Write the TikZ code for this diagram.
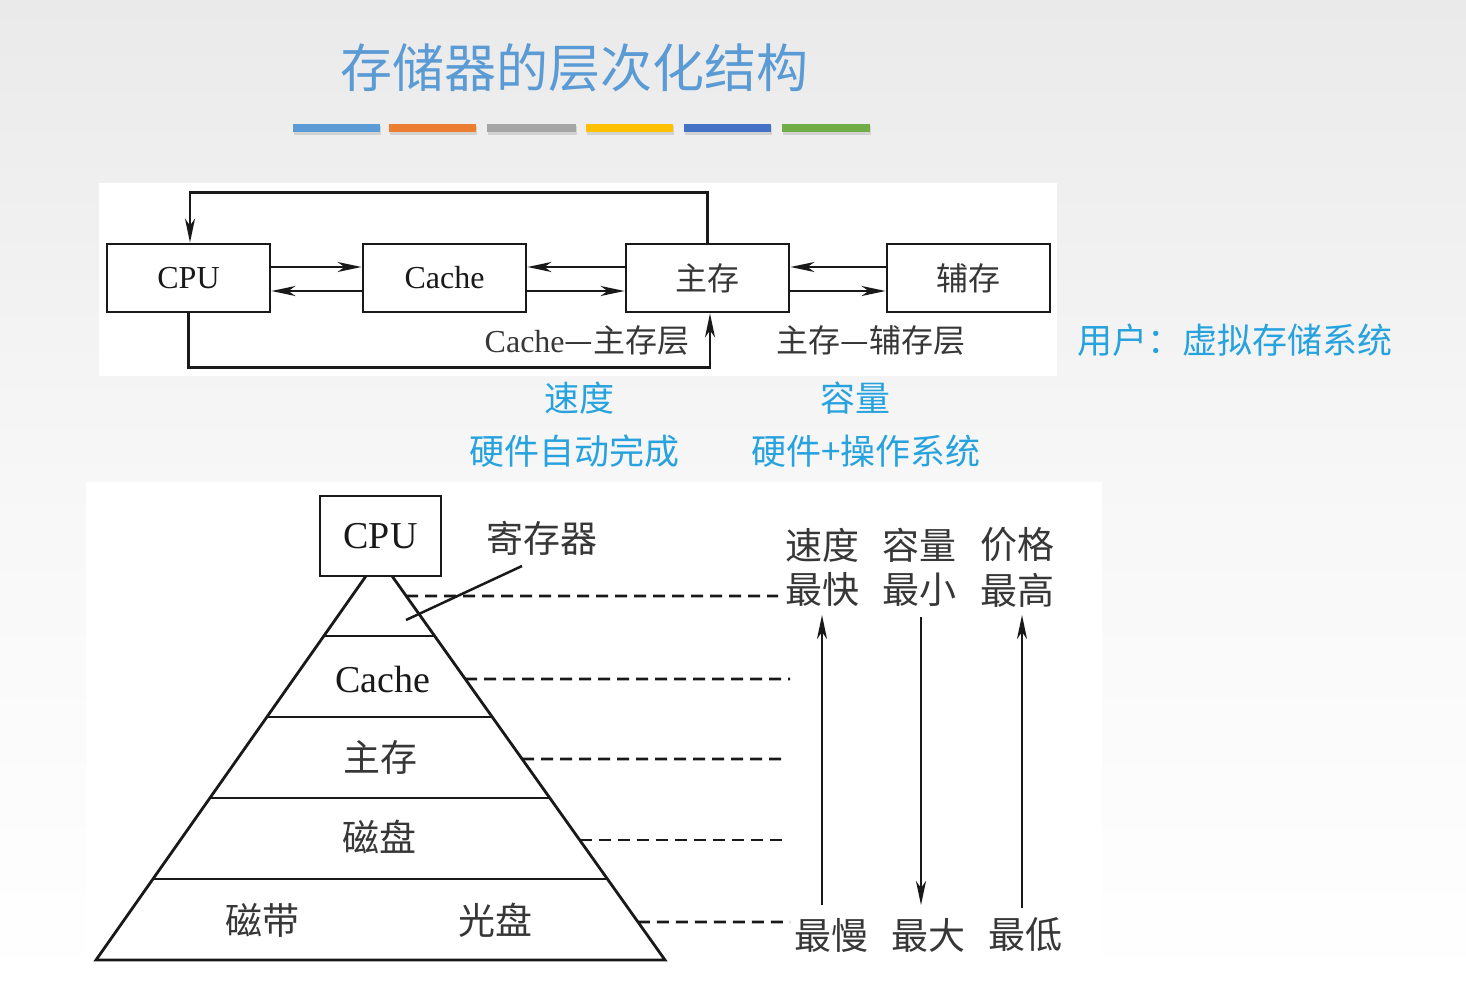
\documentclass[tikz,border=0pt]{standalone}
\usepackage{fontspec}
\setmainfont{Liberation Serif}
\newfontfamily\cjk{Noto Sans CJK SC}
\usetikzlibrary{arrows.meta,calc}
\definecolor{titleblue}{RGB}{91,155,213}
\definecolor{lblue}{RGB}{38,162,222}
\definecolor{ink}{RGB}{25,25,25}
\definecolor{cjkink}{RGB}{55,55,55}
\definecolor{barA}{RGB}{91,155,213}
\definecolor{barB}{RGB}{237,125,49}
\definecolor{barC}{RGB}{165,165,165}
\definecolor{barD}{RGB}{255,192,0}
\definecolor{barE}{RGB}{68,114,196}
\definecolor{barF}{RGB}{112,173,71}
\definecolor{bgtop}{RGB}{234,234,234}
\tikzset{
  box/.style={draw=ink,line width=2.8pt,minimum width=163pt,minimum height=68pt,inner sep=0pt,text=ink,font=\fontsize{32}{36}\selectfont},
  pbox/.style={draw=ink,line width=2.8pt,minimum width=121pt,minimum height=80pt,inner sep=0pt,text=ink,font=\fontsize{38}{42}\selectfont},
  conn/.style={draw=ink,line width=2.5pt},
  tip/.style={-{Stealth[length=24pt,width=10pt,inset=7pt]}},
  lab/.style={inner sep=0pt,text=cjkink,font=\fontsize{32}{36}\selectfont},
  plab/.style={inner sep=0pt,text=cjkink,font=\fontsize{37}{40}\selectfont\cjk},
  blab/.style={inner sep=0pt,text=lblue,font=\fontsize{35}{40}\selectfont\cjk},
  pyr/.style={draw=ink,line width=2.8pt},
  dline/.style={draw=ink,line width=2.6pt,dash pattern=on 12pt off 7pt}
}
\begin{document}
\begin{tikzpicture}[x=1pt,y=-1pt]
\useasboundingbox (0,0) rectangle (1466,990);
\shade[top color=bgtop,bottom color=white,middle color=gray!6] (0,0) rectangle (1466,990);
% panels
\fill[white] (99,183) rectangle (1057,376);
\fill[white] (86,482) rectangle (1102,990);
% title
\node[inner sep=0pt,text=titleblue,font=\fontsize{52}{56}\selectfont\cjk] (title) at (574,68) {存储器的层次化结构};
% bars
\foreach \c/\a/\b in {barA/293/380,barB/389/476,barC/487/576,barD/586/673,barE/684/771,barF/782/870}{
  \fill[gray!35] (\a+1,126) rectangle (\b+1,135);
  \fill[\c] (\a,124) rectangle (\b,132);
}
% top diagram
\node[box] (cpu) at (188.5,278) {CPU};
\node[box] (cache) at (444.5,278) {Cache};
\node[box] (zs) at (707.5,278) {\cjk\color{cjkink}主存};
\node[box] (fc) at (968.5,278) {\cjk\color{cjkink}辅存};
\draw[conn,tip] ([yshift=11pt]cpu.east) -- ([yshift=11pt]cache.west);
\draw[conn,tip] ([yshift=-13pt]cache.west) -- ([yshift=-13pt]cpu.east);
\draw[conn,tip] ([yshift=11pt]zs.west) -- ([yshift=11pt]cache.east);
\draw[conn,tip] ([yshift=-13pt]cache.east) -- ([yshift=-13pt]zs.west);
\draw[conn,tip] ([yshift=11pt]fc.west) -- ([yshift=11pt]zs.east);
\draw[conn,tip] ([yshift=-13pt]zs.east) -- ([yshift=-13pt]fc.west);
\draw[conn,tip] (zs.north) -- ++(0,-50) -| ([xshift=1.5pt]cpu.north);
\draw[conn,tip] (cpu.south) -- ++(0,54) -| ([xshift=2.5pt]zs.south);
\node[lab] (l1) at (587,340) {Cache{\cjk —主存层}};
\node[lab] (l2) at (871,340) {\cjk 主存—辅存层};
% blue labels
\node[blab] (user) at (1235,340) {用户：虚拟存储系统};
\node[blab] (sd) at (579,398) {速度};
\node[blab] (rl) at (855,398) {容量};
\node[blab] (hw1) at (574,451) {硬件自动完成};
\node[blab] (hw2) at (866,451) {硬件+操作系统};
% pyramid
\node[pbox] (pcpu) at (380.5,536) {CPU};
\coordinate (aL) at (366,576);
\coordinate (aR) at (392,576);
\coordinate (bL) at (96,960);
\coordinate (bR) at (665,960);
\draw[pyr] (aL) -- (bL) -- (bR) -- (aR);
\foreach \t in {0.15625,0.3672,0.5781,0.7891}{
  \draw[pyr] ($(aL)!\t!(bL)$) -- ($(aR)!\t!(bR)$);
}
\node[plab,font=\fontsize{38}{42}\selectfont,text=ink] (pcache) at (383,679) {Cache};
\node[plab] (pzs) at (380,757) {主存};
\node[plab] (pcp) at (379,837) {磁盘};
\node[plab] (pcd) at (262,920) {磁带};
\node[plab] (pgp) at (495,920) {光盘};
\node[plab] (reg) at (542,538) {寄存器};
\coordinate (regA) at (522,566);
\coordinate (regB) at (406,620);
\draw[pyr,line width=2.5pt] (regA) -- (regB);
% dashed lines
\coordinate (d1a) at ($(aR)!0.0521!(bR)$);
\coordinate (d2a) at ($(aR)!0.2682!(bR)$);
\coordinate (d3a) at ($(aR)!0.4766!(bR)$);
\coordinate (d4a) at ($(aR)!0.6875!(bR)$);
\coordinate (d5a) at ($(aR)!0.9010!(bR)$);
\coordinate (d1b) at (778,596);
\coordinate (d2b) at (790,679);
\coordinate (d3b) at (788,759);
\coordinate (d4b) at (785,840);
\coordinate (d5b) at (790,922);
\foreach \i in {1,...,5}{\draw[dline] (d\i a) -- (d\i b);}
% right labels
\node[plab] (hs) at (822,545) {速度};
\node[plab] (hc) at (919,545) {容量};
\node[plab] (hp) at (1017,545) {价格};
\node[plab] (fast) at (822,590) {最快};
\node[plab] (small) at (919,590) {最小};
\node[plab] (high) at (1017,590) {最高};
\node[plab] (slow) at (831,935) {最慢};
\node[plab] (big) at (928,935) {最大};
\node[plab] (low) at (1025,935) {最低};
\coordinate (sA) at (822,905);
\coordinate (sB) at (822,615);
\coordinate (cA) at (921,617);
\coordinate (cB) at (921,905);
\coordinate (pA) at (1022,908);
\coordinate (pB) at (1022,615);
\draw[conn,tip] (sA) -- (sB);
\draw[conn,tip] (cA) -- (cB);
\draw[conn,tip] (pA) -- (pB);
\end{tikzpicture}
\end{document}
